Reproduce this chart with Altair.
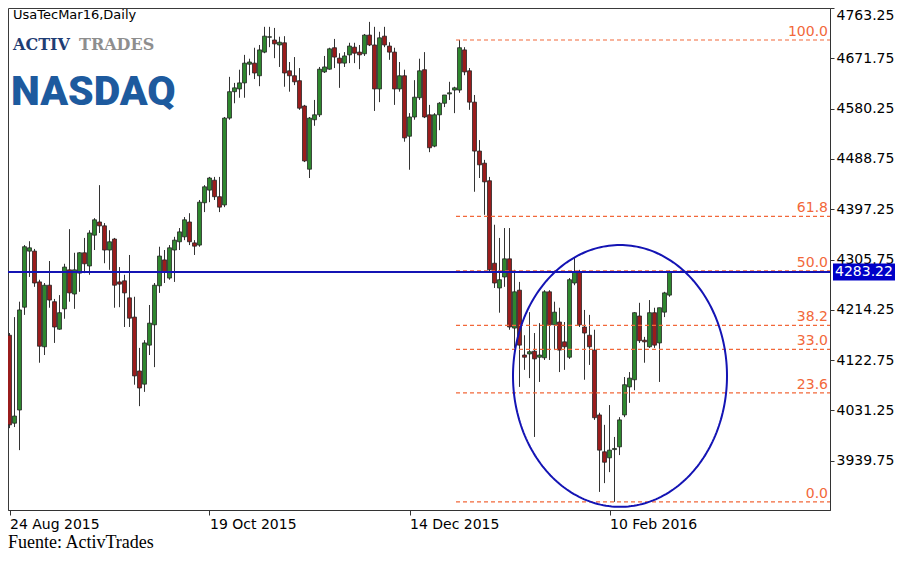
import altair as alt
import numpy as np
import pandas as pd

# ---- candle data (daily) ----
OPEN = [4168, 4008, 4032, 4219, 4321, 4321, 4265, 4147, 4259, 4229,
        4179, 4216, 4287, 4243, 4281, 4318, 4294, 4350, 4374, 4367,
        4323, 4343, 4265, 4267, 4236, 4201, 4103, 4079, 4150, 4187,
        4258, 4305, 4272, 4323, 4338, 4347, 4374, 4336, 4332, 4409,
        4432, 4450, 4420, 4405, 4563, 4611, 4616, 4627, 4661, 4663,
        4640, 4683, 4710, 4705, 4696, 4700, 4649, 4640, 4631, 4585,
        4470, 4560, 4569, 4647, 4652, 4691, 4672, 4663, 4678, 4692,
        4683, 4680, 4714, 4696, 4616, 4712, 4694, 4683, 4616, 4640,
        4530, 4565, 4600, 4651, 4569, 4512, 4569, 4590, 4607, 4614,
        4614, 4687, 4649, 4592, 4503, 4481, 4449, 4299, 4254, 4274,
        4307, 4181, 4250, 4132, 4134, 4139, 4128, 4127, 4247, 4187,
        4192, 4156, 4128, 4263, 4283, 4183, 4168, 4141, 4023, 3956,
        3945, 3960, 3965, 4023, 4074, 4087, 4203, 4159, 4147, 4209,
        4154, 4210, 4241]
HIGH = [4172, 4201, 4229, 4332, 4339, 4325, 4269, 4263, 4303, 4234,
        4241, 4298, 4361, 4318, 4319, 4345, 4359, 4381, 4441, 4372,
        4359, 4345, 4292, 4278, 4314, 4238, 4145, 4159, 4223, 4263,
        4329, 4323, 4332, 4347, 4363, 4383, 4390, 4341, 4414, 4441,
        4456, 4456, 4456, 4565, 4638, 4627, 4651, 4678, 4671, 4691,
        4696, 4729, 4729, 4727, 4711, 4712, 4665, 4674, 4654, 4587,
        4565, 4596, 4656, 4676, 4691, 4707, 4681, 4683, 4700, 4700,
        4696, 4716, 4738, 4729, 4720, 4729, 4701, 4691, 4665, 4651,
        4572, 4632, 4671, 4683, 4587, 4572, 4592, 4605, 4629, 4620,
        4705, 4692, 4654, 4605, 4523, 4487, 4456, 4369, 4345, 4363,
        4363, 4287, 4265, 4168, 4210, 4172, 4190, 4250, 4250, 4229,
        4218, 4192, 4272, 4309, 4287, 4214, 4205, 4178, 4027, 4005,
        4041, 3983, 4019, 4092, 4101, 4210, 4227, 4165, 4232, 4218,
        4218, 4247, 4286]
LOW = [3999, 4001, 3959, 4205, 4274, 4256, 4118, 4132, 4218, 4154,
       4178, 4198, 4229, 4216, 4247, 4281, 4278, 4323, 4354, 4299,
       4287, 4218, 4219, 4183, 4183, 4078, 4039, 4065, 4132, 4110,
       4245, 4263, 4269, 4265, 4323, 4341, 4332, 4314, 4329, 4392,
       4410, 4414, 4392, 4401, 4560, 4590, 4600, 4600, 4641, 4634,
       4621, 4681, 4692, 4672, 4656, 4620, 4611, 4623, 4578, 4483,
       4454, 4549, 4565, 4645, 4651, 4654, 4618, 4656, 4663, 4663,
       4652, 4676, 4694, 4576, 4592, 4692, 4669, 4587, 4611, 4520,
       4469, 4560, 4596, 4563, 4501, 4510, 4541, 4583, 4596, 4572,
       4609, 4641, 4578, 4429, 4454, 4387, 4283, 4254, 4209, 4256,
       4178, 4145, 4074, 4105, 4090, 3983, 4083, 4123, 4123, 4141,
       4101, 4105, 4125, 4259, 4183, 4087, 4114, 4014, 3883, 3899,
       3919, 3865, 3950, 4019, 4045, 4068, 4154, 4118, 4145, 4145,
       4083, 4201, 4238]
CLOSE = [4005, 4021, 4214, 4329, 4327, 4263, 4148, 4259, 4232, 4183,
         4209, 4292, 4245, 4287, 4318, 4298, 4354, 4378, 4367, 4323,
         4338, 4259, 4261, 4245, 4199, 4094, 4072, 4154, 4190, 4259,
         4312, 4283, 4327, 4341, 4356, 4378, 4338, 4330, 4410, 4438,
         4454, 4420, 4401, 4563, 4611, 4618, 4627, 4663, 4665, 4645,
         4687, 4712, 4711, 4698, 4701, 4645, 4640, 4629, 4581, 4485,
         4563, 4569, 4652, 4656, 4689, 4674, 4663, 4676, 4694, 4681,
         4678, 4714, 4696, 4616, 4709, 4696, 4683, 4616, 4640, 4527,
         4565, 4601, 4649, 4565, 4509, 4569, 4590, 4605, 4609, 4618,
         4691, 4647, 4592, 4503, 4478, 4447, 4287, 4263, 4269, 4307,
         4183, 4247, 4150, 4128, 4138, 4125, 4132, 4247, 4187, 4210,
         4141, 4147, 4269, 4283, 4187, 4172, 4147, 4018, 3959, 3937,
         3959, 3962, 4014, 4078, 4090, 4209, 4158, 4156, 4209, 4150,
         4218, 4245, 4283.22]

TICK_IDX = [0, 40, 80, 120]
TICK_LABELS = ["24 Aug 2015", "19 Oct 2015", "14 Dec 2015", "10 Feb 2016"]
Y_TICKS = [4763.25, 4671.75, 4580.25, 4488.75, 4397.25,
           4305.75, 4214.25, 4122.75, 4031.25, 3939.75]
FIB_PCT = [100.0, 61.8, 50.0, 38.2, 33.0, 23.6, 0.0]
FIB_HIGH = 4705.0
FIB_LOW = 3865.0
FIB_START = 89.3
CURRENT = 4283.22
ELL_CX, ELL_RX = 122.1, 21.4
ELL_CY, ELL_RY = 4094.0, 238.1

W, H = 822, 502
FIB_COLOR = "#F2683A"
BLUE = "#1414B4"
FONT = "DejaVu Sans"

xs = alt.Scale(domain=[-0.3, 164.1], nice=False, zero=False, padding=0)
ys = alt.Scale(domain=[3850.1, 4763.25], nice=False, zero=False, padding=0)

n = len(OPEN)
df = pd.DataFrame({"i": list(range(n)), "open": OPEN, "high": HIGH,
                   "low": LOW, "close": CLOSE})
df["dir"] = np.where(df["close"] >= df["open"], "up", "down")

label_expr = " : ".join(
    f"datum.value == {i} ? '{t}'" for i, t in zip(TICK_IDX, TICK_LABELS)
) + " : ''"

x_axis = alt.Axis(values=TICK_IDX, labelExpr=label_expr,
                  labelAlign="left", labelFlush=False,
                  labelPadding=2, tickSize=5, labelFontSize=14,
                  labelFont=FONT, labelColor="black",
                  tickColor="#333", domainColor="#333",
                  grid=False, labelOverlap=False)
y_axis = alt.Axis(orient="right", values=Y_TICKS, format=".2f",
                  tickSize=4, labelPadding=2, labelFontSize=14,
                  labelFont=FONT, labelColor="black",
                  labelFlush=True, tickColor="#333",
                  domainColor="#333", grid=False)


def X(field):
    return alt.X(field, scale=xs, title=None, axis=x_axis)


def Y(field):
    return alt.Y(field, scale=ys, title=None, axis=y_axis)


wicks = alt.Chart(df).mark_rule(color="#333333", strokeWidth=1).encode(
    x=X("i:Q"), y=Y("low:Q"), y2="high:Q")

bodies = alt.Chart(df).mark_bar(size=4, stroke="#262626", strokeWidth=0.8).encode(
    x=X("i:Q"), y=Y("open:Q"), y2="close:Q",
    color=alt.Color("dir:N", scale=alt.Scale(domain=["up", "down"],
                                             range=["#2E872E", "#9A1C1C"]),
                    legend=None))

fib_df = pd.DataFrame({
    "pct": FIB_PCT,
    "value": [FIB_LOW + (FIB_HIGH - FIB_LOW) * p / 100 for p in FIB_PCT],
    "x0": [FIB_START] * len(FIB_PCT),
})
fib_df["label"] = [f"{p:.1f}" for p in FIB_PCT]

fib_rules = alt.Chart(fib_df).mark_rule(
    color=FIB_COLOR, strokeWidth=1.2, strokeDash=[4, 3]).encode(
    x=X("x0:Q"), x2=alt.value(W), y=Y("value:Q"))

fib_text = alt.Chart(fib_df).mark_text(
    align="right", baseline="bottom", dy=-1, fontSize=14, font=FONT,
    color=FIB_COLOR).encode(
    x=alt.value(W - 2), y=Y("value:Q"), text="label:N")

cur_df = pd.DataFrame({"v": [CURRENT], "t": [f"{CURRENT:.2f}"]})
cur_rule = alt.Chart(cur_df).mark_rule(color=BLUE, strokeWidth=2).encode(
    y=Y("v:Q"))
cur_box = alt.Chart(cur_df).mark_rect(color="#0000C8", height=17).encode(
    x=alt.value(W + 3), x2=alt.value(W + 65), y=Y("v:Q"))
cur_text = alt.Chart(cur_df).mark_text(
    color="white", fontSize=14, font=FONT, align="left", baseline="middle").encode(
    x=alt.value(W + 5), y=Y("v:Q"), text="t:N")

theta = np.linspace(0, 2 * np.pi, 241)
ell_df = pd.DataFrame({"k": np.arange(len(theta)),
                       "ex": ELL_CX + ELL_RX * np.cos(theta),
                       "ey": ELL_CY + ELL_RY * np.sin(theta)})
ellipse = alt.Chart(ell_df).mark_line(color=BLUE, strokeWidth=2).encode(
    x=X("ex:Q"), y=Y("ey:Q"), order="k:Q")

one = pd.DataFrame({"a": [0]})


def label(text, x, y, size, color="black", font=FONT, weight="normal",
          baseline="middle"):
    return alt.Chart(one).mark_text(
        align="left", baseline=baseline, fontSize=size, font=font,
        fontWeight=weight, color=color).encode(
        x=alt.value(x), y=alt.value(y), text=alt.value(text))


title_txt = label("UsaTecMar16,Daily", 5, 7, 13)
activ = label("ACTIV", 5, 42, 16, "#1F3D74", "DejaVu Serif", "bold", "alphabetic")
trades = label("TRADES", 71, 42, 16, "#8E8E8E", "DejaVu Serif", "bold", "alphabetic")
nasdaq = label("NASDAQ", 3, 97, 41, "#1D5A9E", "Roboto", 900, "alphabetic")
fuente = label("Fuente: ActivTrades", 0, 540, 18, "black",
               "Liberation Serif", "normal", "alphabetic")

chart = alt.layer(
    wicks, bodies, fib_rules, fib_text, cur_rule, ellipse, cur_box, cur_text,
    title_txt, activ, trades, nasdaq, fuente
).properties(
    width=W, height=H,
    autosize=alt.AutoSizeParams(type="none"),
    padding={"left": 0, "top": 0, "right": 66, "bottom": 42},
    background="white",
).configure_view(stroke="#3a3a3a", strokeWidth=1)

chart.save("out.html", embed_options={"renderer": "svg", "actions": False})
